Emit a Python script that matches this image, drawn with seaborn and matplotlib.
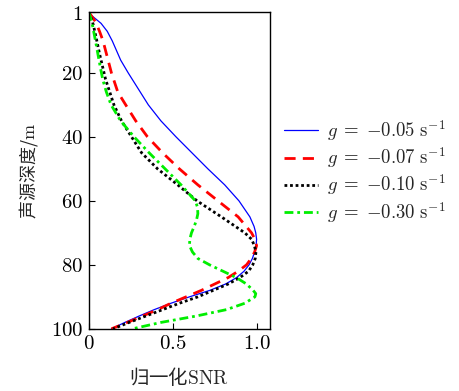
import matplotlib
matplotlib.use("Agg")
import matplotlib.pyplot as plt
import seaborn as sns
import pandas as pd

# Source depth (m) and normalized SNR for four gradient values
depth_blue = [1, 2, 4.5, 7, 10, 13, 16, 20, 25, 30, 35, 40, 45, 50, 55, 60, 65, 68, 70, 72, 74, 76, 78, 80, 82, 84, 86, 88, 90, 92, 94, 96, 98, 100]
snr_blue = [0, 0.015, 0.073, 0.11, 0.14, 0.165, 0.19, 0.235, 0.295, 0.355, 0.43, 0.52, 0.615, 0.71, 0.81, 0.895, 0.96, 0.985, 0.995, 1.0, 0.997, 0.988, 0.975, 0.955, 0.925, 0.88, 0.815, 0.72, 0.60, 0.49, 0.39, 0.30, 0.215, 0.135]

depth_red = [1, 4, 7, 10, 15, 20, 26, 31, 35, 40, 45, 50, 55, 60, 65, 70, 72, 74, 76, 78, 80, 82, 84, 86, 88, 90, 92, 94, 96, 98, 100]
snr_red = [0, 0.04, 0.064, 0.085, 0.11, 0.135, 0.173, 0.232, 0.28, 0.35, 0.44, 0.54, 0.65, 0.77, 0.89, 0.97, 0.99, 1.0, 0.988, 0.968, 0.94, 0.89, 0.83, 0.75, 0.67, 0.58, 0.49, 0.41, 0.32, 0.23, 0.135]

depth_black = [1, 4, 6.6, 10, 14, 18, 22, 26, 30, 35, 40, 45, 50, 55, 60, 65, 70, 72, 74, 76, 78, 80, 82, 84, 86, 88, 90, 92, 94, 96, 98, 100]
snr_black = [0, 0.022, 0.034, 0.048, 0.064, 0.082, 0.10, 0.125, 0.15, 0.195, 0.255, 0.315, 0.41, 0.53, 0.645, 0.79, 0.93, 0.97, 0.987, 0.996, 0.992, 0.977, 0.952, 0.90, 0.83, 0.74, 0.65, 0.54, 0.44, 0.34, 0.24, 0.145]

depth_green = [1, 3, 5.6, 10, 14, 18, 22, 26, 30, 35, 40, 45, 50, 55, 60, 62, 64, 66, 68, 70, 72, 74, 76, 78, 80, 82, 84, 86, 88, 89, 90, 92, 94, 96, 98, 100]
snr_green = [0, 0.012, 0.024, 0.04, 0.054, 0.068, 0.083, 0.105, 0.133, 0.19, 0.27, 0.36, 0.455, 0.55, 0.635, 0.648, 0.65, 0.642, 0.628, 0.612, 0.602, 0.60, 0.618, 0.65, 0.72, 0.80, 0.88, 0.94, 0.98, 0.995, 0.99, 0.93, 0.82, 0.64, 0.43, 0.26]

labels = [r"$g\;=\;{-}0.05\ \mathrm{s}^{-1}$", r"$g\;=\;{-}0.07\ \mathrm{s}^{-1}$",
          r"$g\;=\;{-}0.10\ \mathrm{s}^{-1}$", r"$g\;=\;{-}0.30\ \mathrm{s}^{-1}$"]
yticks = [1, 20, 40, 60, 80, 100]
xticks = [0, 0.5, 1.0]
xticklabels = ["0", "0.5", "1.0"]

sns.set_theme(style="ticks")
plt.rcParams["mathtext.fontset"] = "cm"
plt.rcParams["font.family"] = ["DejaVu Serif"]

fig = plt.figure(figsize=(4.6, 3.91), dpi=100)
ax = fig.add_axes([0.193, 0.159, 0.394, 0.81])

series = [
    (snr_blue, depth_blue, dict(color="#0000ff", lw=0.9, linestyle="-")),
    (snr_red, depth_red, dict(color="#ff0000", lw=2.0, dashes=(4, 2.6))),
    (snr_black, depth_black, dict(color="black", lw=2.0, dashes=(1, 1))),
    (snr_green, depth_green, dict(color="#00ee00", lw=2.0, dashes=(3.2, 1.4, 1, 1.4))),
]
for (x, y, style), lab in zip(series, labels):
    df = pd.DataFrame({"snr": x, "depth": y})
    kw = dict(style)
    dashes = kw.pop("dashes", None)
    sns.lineplot(data=df, x="snr", y="depth", sort=False, estimator=None,
                 ax=ax, label=lab, **kw)
    if dashes is not None:
        ax.lines[-1].set_dashes(dashes)

ax.set_xlim(0, 1.08)
ax.set_ylim(100, 1)
ax.set_yticks(yticks)
ax.set_yticklabels([f"${t}$" for t in yticks])
ax.set_xticks(xticks)
ax.set_xticklabels([f"${t}$" for t in xticklabels])
ax.tick_params(direction="in", length=4, width=0.8, labelsize=15, colors="black", pad=4)
for s in ax.spines.values():
    s.set_linewidth(1.0)
    s.set_color("black")

ax.set_xlabel(r"归一化$\mathrm{SNR}$", family=["Noto Sans CJK SC", "DejaVu Serif"], fontsize=14, labelpad=9)
ax.set_ylabel(r"声源深度/$\mathrm{m}$", family=["Noto Sans CJK SC", "DejaVu Serif"], fontsize=13, labelpad=8)

leg = ax.legend(loc="center left", bbox_to_anchor=(0.617, 0.562), bbox_transform=fig.transFigure,
                frameon=False, fontsize=13.5, handlelength=1.8, handletextpad=0.5,
                labelspacing=0.12, borderaxespad=0, borderpad=0)

fig.savefig("out.png", dpi=100)
